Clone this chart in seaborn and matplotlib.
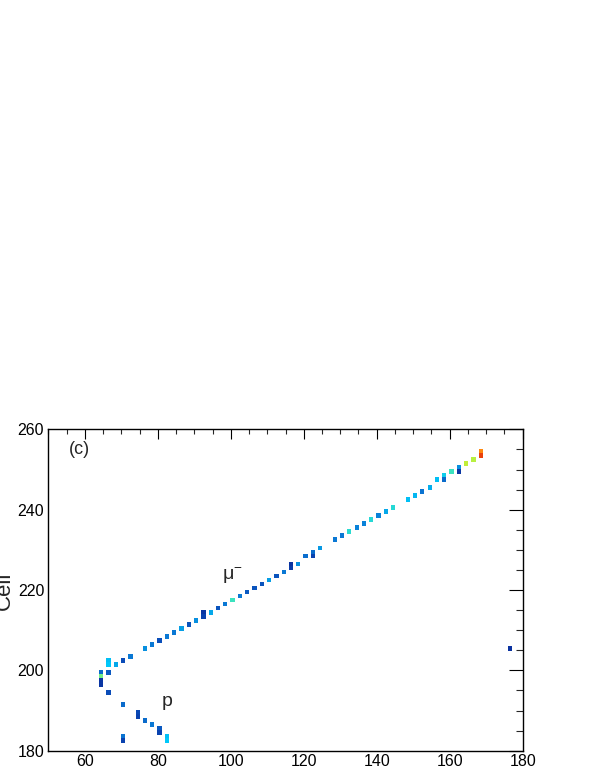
# =========================================================
# EVENT DISPLAY - CELL VS PLANE VIEW (c)
# =========================================================
import matplotlib
matplotlib.use("Agg")

import pandas as pd
import matplotlib.pyplot as plt
import seaborn as sns
from matplotlib.colors import LinearSegmentedColormap
from matplotlib.markers import MarkerStyle
from matplotlib.ticker import MultipleLocator

# =========================
# DATA (plane index, cell index, relative charge)
# =========================
planes = [
    64, 64, 64, 64,
    66, 66, 66, 66,
    68,
    70, 70, 70, 70,
    72,
    74, 74,
    76, 76,
    78, 78,
    80, 80, 80,
    82, 82, 82,
    84, 86, 88, 90,
    92, 92,
    94, 96, 98, 100, 102, 104, 106, 108, 110, 112, 114,
    116, 116,
    118, 120,
    122, 122,
    124, 128, 130, 132, 134, 136, 138, 140, 142, 144,
    148, 150, 152, 154, 156,
    158, 158,
    160,
    162, 162,
    164, 166,
    168, 168,
    176,
]

cells = [
    199, 198, 197, 196,
    202, 201, 199, 194,
    201,
    202, 191, 183, 182,
    203,
    189, 188,
    205, 187,
    206, 186,
    207, 185, 184,
    208, 183, 182,
    209, 210, 211, 212,
    214, 213,
    214, 215, 216, 217, 218, 219, 220, 221, 222, 223, 224,
    226, 225,
    226, 228,
    229, 228,
    230, 232, 233, 234, 235, 236, 237, 238, 239, 240,
    242, 243, 244, 245, 247,
    248, 247,
    249,
    250, 249,
    251, 252,
    254, 253,
    205,
]

charge = [
    0.22, 0.58, 0.08, 0.08,
    0.40, 0.42, 0.18, 0.15,
    0.35,
    0.15, 0.22, 0.24, 0.12,
    0.25,
    0.14, 0.12,
    0.30, 0.22,
    0.25, 0.25,
    0.16, 0.18, 0.12,
    0.25, 0.40, 0.42,
    0.25, 0.33, 0.17, 0.30,
    0.08, 0.12,
    0.35, 0.17, 0.25, 0.50, 0.25, 0.18, 0.17, 0.17, 0.33, 0.17, 0.25,
    0.07, 0.10,
    0.30, 0.23,
    0.22, 0.12,
    0.32, 0.25, 0.25, 0.48, 0.27, 0.27, 0.47, 0.27, 0.35, 0.47,
    0.40, 0.38, 0.24, 0.36, 0.40,
    0.44, 0.22,
    0.50,
    0.30, 0.08,
    0.68, 0.67,
    0.84, 0.92,
    0.07,
]

x_ticks = [60, 80, 100, 120, 140, 160, 180]
y_ticks = [180, 200, 220, 240, 260]

# ROOT-like rainbow palette
palette_colors = [
    (0.00, "#0a1e8c"), (0.15, "#0a4cb8"), (0.25, "#0a78d4"),
    (0.35, "#05a8ea"), (0.42, "#00c8fa"), (0.50, "#3ae2c0"),
    (0.60, "#80f078"), (0.68, "#bff03a"), (0.78, "#ffd000"),
    (0.85, "#ff8010"), (0.93, "#e83a0a"), (1.00, "#b01000"),
]

# =========================
# GLOBAL SETTINGS
# =========================
sns.set_theme(style="white")
plt.rcParams["font.family"] = ["Liberation Sans", "DejaVu Sans"]
plt.rcParams["mathtext.fontset"] = "custom"
plt.rcParams["mathtext.rm"] = "Liberation Sans"


def main():
    hits = pd.DataFrame({"plane": planes, "cell": cells, "charge": charge})
    # bin centres
    hits["x"] = hits["plane"] + 0.5
    hits["y"] = hits["cell"] + 0.5

    cmap = LinearSegmentedColormap.from_list("root_rainbow", palette_colors)

    fig = plt.figure(figsize=(5.98, 7.7), dpi=100)
    ax = fig.add_axes([0.0808, 0.025, 0.7933, 0.4174])

    # a hit is drawn as a small box, a bit narrower than tall
    cell_box = MarkerStyle([(-0.45, -0.5), (0.45, -0.5), (0.45, 0.5), (-0.45, 0.5)])

    sns.scatterplot(
        data=hits,
        x="x",
        y="y",
        hue="charge",
        palette=cmap,
        hue_norm=(0, 1),
        marker=cell_box,
        s=11.5,
        linewidth=0,
        edgecolor="none",
        legend=False,
        ax=ax,
    )

    ax.set_xlim(50, 180)
    ax.set_ylim(180, 260)
    ax.set_xticks(x_ticks)
    ax.set_yticks(y_ticks)
    ax.xaxis.set_minor_locator(MultipleLocator(5))
    ax.yaxis.set_minor_locator(MultipleLocator(5))
    ax.set_xlabel("")
    ax.set_ylabel("")

    for spine in ax.spines.values():
        spine.set_color("black")
        spine.set_linewidth(1.0)

    ax.tick_params(direction="in", top=True, right=True, labelsize=11.5,
                   colors="black", width=0.8)
    ax.tick_params(axis="x", which="major", length=7.2, pad=2)
    ax.tick_params(axis="x", which="minor", length=3.6, width=0.8,
                   direction="in", top=True)
    ax.tick_params(axis="y", which="major", length=10, pad=3)
    ax.tick_params(axis="y", which="minor", length=5, width=0.8,
                   direction="in", right=True)

    # annotations
    ax.text(58.4, 255.0, "(c)", fontsize=13, ha="center", va="center")
    ax.text(100.3, 223.6, r"μ$^{-}$", fontsize=14, ha="center", va="center")
    ax.text(82.5, 192.3, "p", fontsize=14, ha="center", va="center")

    # axis title sits partly off the left edge, as in the original display
    fig.text(15 / 598, 1 - 591 / 770, "Cell", rotation=90, fontsize=16,
             ha="right", va="center")

    fig.savefig("out.png", dpi=100)
    plt.close(fig)


if __name__ == "__main__":
    main()
